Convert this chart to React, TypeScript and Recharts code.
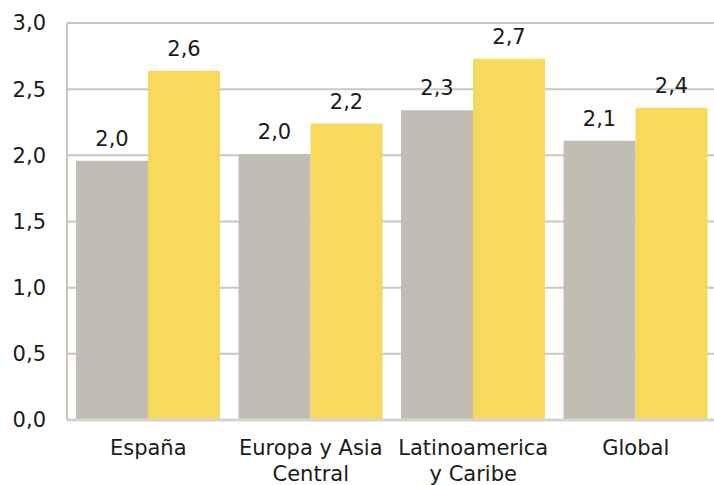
import React from 'react'
import { BarChart, Bar, XAxis, YAxis, CartesianGrid, LabelList } from 'recharts'

// Regions (line breaks as in the original axis labels)
const categories = ['España', 'Europa y Asia\nCentral', 'Latinoamerica\ny Caribe', 'Global']
const seriesGray = [1.96, 2.01, 2.34, 2.11]
const seriesYellow = [2.64, 2.24, 2.73, 2.36]
const yTicks = [0, 0.5, 1, 1.5, 2, 2.5, 3]

const data = categories.map((name, i) => ({
  name,
  gray: seriesGray[i],
  yellow: seriesYellow[i],
}))

const FONT = '"DejaVu Sans", Verdana, sans-serif'
const fmt = (v: number) => v.toFixed(1).replace('.', ',')

const CategoryTick = (props: any) => {
  const { x, y, payload } = props
  const lines = String(payload.value).split('\n')
  return (
    <g>
      {lines.map((line: string, i: number) => (
        <text
          key={i}
          x={x}
          y={y + 27 + i * 26}
          textAnchor="middle"
          fontFamily={FONT}
          fontSize={21}
          fill="#1a1a1a"
        >
          {line}
        </text>
      ))}
    </g>
  )
}

export default function App() {
  return (
    <div style={{ position: 'absolute', left: 0, top: 0, width: 714, height: 485, overflow: 'hidden', background: '#fff' }}>
      <BarChart
        width={720}
        height={485}
        data={data}
        margin={{ top: 23, right: 3, bottom: 5, left: 7 }}
        barCategoryGap={9}
        barGap={0}
      >
        <CartesianGrid vertical={false} stroke="#cbc7bf" strokeWidth={2} />
        <XAxis
          dataKey="name"
          height={60}
          axisLine={{ stroke: '#d6d4cf', strokeWidth: 3 }}
          tickLine={false}
          interval={0}
          tick={<CategoryTick />}
        />
        <YAxis
          width={60}
          domain={[0, 3]}
          ticks={yTicks}
          tickFormatter={fmt}
          axisLine={{ stroke: '#cbc7bf', strokeWidth: 2 }}
          tickLine={false}
          tickSize={0}
          tickMargin={21}
          tick={{ fontFamily: FONT, fontSize: 21, fill: '#1a1a1a' }}
        />
        <Bar dataKey="gray" fill="#c1bdb3" isAnimationActive={false}>
          <LabelList
            dataKey="gray"
            position="top"
            offset={15}
            formatter={(v: any) => fmt(Number(v))}
            style={{ fontFamily: FONT, fontSize: 21, fill: '#1a1a1a' }}
          />
        </Bar>
        <Bar dataKey="yellow" fill="#f7da5c" isAnimationActive={false}>
          <LabelList
            dataKey="yellow"
            position="top"
            offset={15}
            formatter={(v: any) => fmt(Number(v))}
            style={{ fontFamily: FONT, fontSize: 21, fill: '#1a1a1a' }}
          />
        </Bar>
      </BarChart>
    </div>
  )
}
